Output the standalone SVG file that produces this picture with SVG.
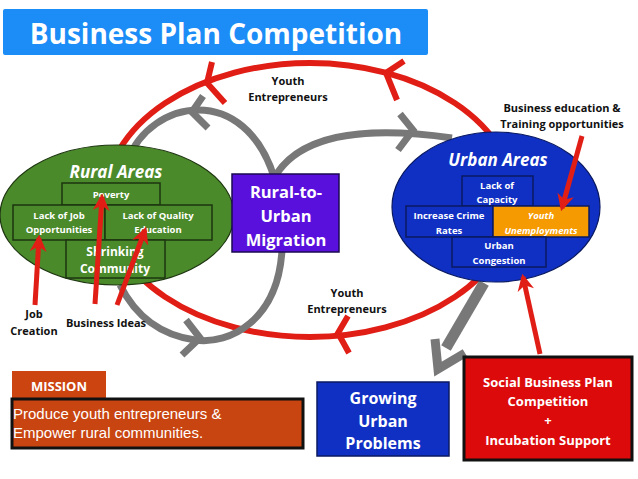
<svg xmlns="http://www.w3.org/2000/svg" width="638" height="479" viewBox="0 0 638 479">
<defs>
<marker id="rh" viewBox="0 0 10 10" refX="8" refY="5" markerWidth="3.4" markerHeight="3.4" orient="auto" markerUnits="strokeWidth">
<path d="M0,0 L10,5 L0,10 L3,5 z" fill="#e01e16"/>
</marker>
</defs>
<style>
.t{font-family:"Open Sans",Lato,"DejaVu Sans",sans-serif;font-weight:bold;fill:#fff;text-anchor:middle}
.lb{font-family:"Open Sans",Lato,"DejaVu Sans",sans-serif;font-weight:bold;fill:#111;text-anchor:middle;font-size:11px}
.gbox{fill:#4b8a2a;stroke:#1d3510;stroke-width:1.5}
.bbox{fill:#1030c4;stroke:#0a1a60;stroke-width:1.5}
.red{fill:none;stroke:#e01e16;stroke-width:6}
.gray{fill:none;stroke:#787878;stroke-width:7}
.rarr{stroke:#e01e16;stroke-width:5;marker-end:url(#rh)}
.sm{font-size:9.5px}
</style>
<rect width="638" height="479" fill="#fff"/>

<g id="title">
<rect x="3" y="9" width="425" height="46" rx="2" fill="#1c8cf6"/>
<text class="t" x="216" y="44" font-size="28">Business Plan Competition</text>
</g>

<g id="connectors">
<ellipse cx="310" cy="200" rx="205" ry="137" class="red"/>
<polyline class="red" points="212,62 207,83 225,103"/>
<polyline class="red" points="404,61 386,73 397,100"/>
<polyline class="red" points="348,316 338,333 349,353"/>
<path class="gray" d="M128,160 C150,100 245,80 275,180"/>
<path class="gray" d="M272,182 C295,135 360,125 452,138"/>
<path class="gray" d="M282,250 C278,320 230,345 195,340 C160,335 135,315 120,285"/>
<polyline class="gray" points="203,96 192,112 208,128"/>
<polyline class="gray" points="400,114 413,130 398,150"/>
<polyline class="gray" points="186,320 200,338 182,355"/>
<line x1="484" y1="283" x2="446" y2="348" stroke="#787878" stroke-width="11"/>
<polyline points="435,339 438,369 465,353" fill="none" stroke="#787878" stroke-width="9"/>
</g>

<g id="rural">
<ellipse cx="117" cy="215" rx="117" ry="70" fill="#4b8a2a" stroke="#1d3510" stroke-width="1.2"/>
<text class="t" x="116" y="178" font-size="17" font-style="italic">Rural Areas</text>
<rect class="gbox" x="62" y="183" width="98" height="22"/>
<text class="t sm" x="111" y="198">Poverty</text>
<rect class="gbox" x="13" y="205" width="92" height="35"/>
<text class="t sm" x="59" y="219">Lack of Job</text>
<text class="t sm" x="59" y="233">Opportunities</text>
<rect class="gbox" x="105" y="205" width="107" height="35"/>
<text class="t sm" x="158" y="219">Lack of Quality</text>
<text class="t sm" x="158" y="233">Education</text>
<rect class="gbox" x="66" y="240" width="99" height="38"/>
<text class="t" x="115" y="256" font-size="12">Shrinking</text>
<text class="t" x="115" y="273" font-size="12">Community</text>
</g>

<g id="migration">
<rect x="232" y="174" width="107" height="78" fill="#5a10dc" stroke="#1a0a50" stroke-width="1.5"/>
<text class="t" x="286" y="198" font-size="16.5">Rural-to-</text>
<text class="t" x="286" y="222" font-size="16.5">Urban</text>
<text class="t" x="286" y="246" font-size="16.5">Migration</text>
</g>

<g id="urban">
<ellipse cx="496" cy="207" rx="104" ry="75" fill="#1030c4" stroke="#0a1a60" stroke-width="1.2"/>
<text class="t" x="498" y="166" font-size="17" font-style="italic">Urban Areas</text>
<rect class="bbox" x="462" y="176" width="71" height="30"/>
<text class="t sm" x="497" y="189">Lack of</text>
<text class="t sm" x="497" y="203">Capacity</text>
<rect class="bbox" x="406" y="206" width="87" height="31"/>
<text class="t sm" x="449" y="219">Increase Crime</text>
<text class="t sm" x="449" y="234">Rates</text>
<rect x="493" y="206" width="96" height="31" fill="#f59a00" stroke="#0a1a60" stroke-width="1.5"/>
<text class="t sm" x="541" y="219" font-style="italic">Youth</text>
<text class="t sm" x="541" y="234" font-style="italic">Unemployments</text>
<rect class="bbox" x="452" y="237" width="94" height="30"/>
<text class="t sm" x="499" y="249">Urban</text>
<text class="t sm" x="499" y="264">Congestion</text>
</g>

<g id="growing">
<rect x="317" y="382" width="132" height="74" fill="#1030c4" stroke="#0a1a60" stroke-width="1.5"/>
<text class="t" x="383" y="404" font-size="16">Growing</text>
<text class="t" x="383" y="427" font-size="16">Urban</text>
<text class="t" x="383" y="449" font-size="16">Problems</text>
</g>

<g id="social">
<rect x="464" y="357" width="168" height="103" fill="#dc0a0a" stroke="#111" stroke-width="3"/>
<text class="t" x="548" y="387" font-size="13">Social Business Plan</text>
<text class="t" x="548" y="406" font-size="13">Competition</text>
<text class="t" x="548" y="425" font-size="13">+</text>
<text class="t" x="548" y="445" font-size="13">Incubation Support</text>
</g>

<g id="mission">
<rect x="12" y="371" width="94" height="27" fill="#cc4410"/>
<text class="t" x="59" y="391" font-size="13">MISSION</text>
<rect x="12" y="399" width="291" height="49" fill="#c84410" stroke="#111" stroke-width="3"/>
<text x="13" y="419" font-family="'Liberation Sans',Arial,sans-serif" font-size="15" fill="#fff">Produce youth entrepreneurs &amp;</text>
<text x="13" y="438" font-family="'Liberation Sans',Arial,sans-serif" font-size="15" fill="#fff">Empower rural communities.</text>
</g>

<g id="arrows">
<line class="rarr" x1="35" y1="305" x2="39" y2="238"/>
<line class="rarr" x1="95" y1="304" x2="102" y2="197"/>
<line class="rarr" x1="117" y1="305" x2="145" y2="230"/>
<line class="rarr" x1="582" y1="136" x2="562" y2="208"/>
<line class="rarr" x1="540" y1="354" x2="523" y2="277"/>
</g>

<g id="labels">
<text class="lb" x="288" y="85">Youth</text>
<text class="lb" x="288" y="101">Entrepreneurs</text>
<text class="lb" x="347" y="297">Youth</text>
<text class="lb" x="347" y="313">Entrepreneurs</text>
<text class="lb" x="562" y="112">Business education &amp;</text>
<text class="lb" x="562" y="128">Training opportunities</text>
<text class="lb" x="34" y="318">Job</text>
<text class="lb" x="34" y="335">Creation</text>
<text class="lb" x="106" y="327">Business Ideas</text>
</g>
</svg>
